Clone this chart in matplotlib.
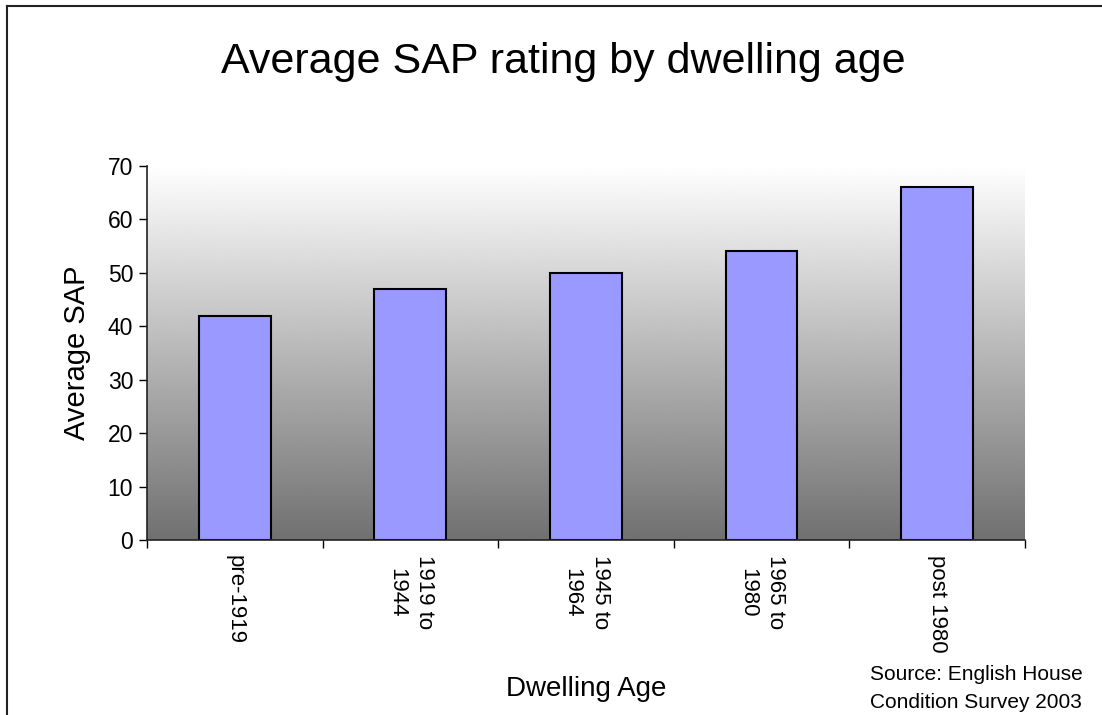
import matplotlib
matplotlib.use("Agg")
import matplotlib.pyplot as plt
from matplotlib.lines import Line2D
import numpy as np

# data
categories = ["pre-1919", "1919 to\n1944", "1945 to\n1964", "1965 to\n1980", "post 1980"]
sap = [42, 47, 50, 54, 66]

plt.rcParams['font.family'] = ['Liberation Sans', 'DejaVu Sans']

fig = plt.figure(figsize=(11.02, 7.15), dpi=100)
ax = fig.add_axes([0.1334, 0.2448, 0.7966, 0.5231])

# grey gradient in the plot area, white at the top
grad = np.linspace(1.0, 0.44, 256).reshape(-1, 1)
ax.imshow(grad, cmap='gray', vmin=0, vmax=1, aspect='auto',
          extent=(-0.5, len(categories) - 0.5, 0, 70), zorder=0)

x = np.arange(len(categories))
ax.bar(x, sap, width=0.41, color='#9999ff', edgecolor='black', linewidth=1.5, zorder=2)

ax.set_xlim(-0.5, len(categories) - 0.5)
ax.set_ylim(0, 70)
ax.set_yticks(range(0, 71, 10))
ax.tick_params(axis='y', labelsize=16.5, length=6, width=1, direction='out', pad=4)

# tick marks between categories, labels at centres
ax.set_xticks(np.arange(-0.5, len(categories), 1.0))
ax.set_xticklabels([])
ax.set_xticks(x, minor=True)
ax.set_xticklabels(categories, minor=True, rotation=270, fontsize=16,
                   va='top', ha='center', multialignment='center', linespacing=1.45)
ax.tick_params(axis='x', which='major', length=6, width=1)
ax.tick_params(axis='x', which='minor', length=0, pad=11)

for s in ['top', 'right']:
    ax.spines[s].set_visible(False)
for s in ['left', 'bottom']:
    ax.spines[s].set_color('#222222')
    ax.spines[s].set_linewidth(1.2)

fig.text(0.511, 0.913, "Average SAP rating by dwelling age", fontsize=31,
         ha='center', va='center')
ax.set_ylabel("Average SAP", fontsize=21, labelpad=12)
fig.text(0.532, 0.037, "Dwelling Age", fontsize=20, ha='center', va='center')
fig.text(0.886, 0.037, "Source: English House\nCondition Survey 2003", fontsize=15,
         ha='center', va='center', linespacing=1.55)

# figure border (left and top edges)
fig.add_artist(Line2D([0.0065, 0.0065], [0, 0.992], transform=fig.transFigure,
                      color='#222222', linewidth=1.5))
fig.add_artist(Line2D([0.0065, 1.0], [0.992, 0.992], transform=fig.transFigure,
                      color='#222222', linewidth=1.5))

fig.savefig("out.png", dpi=100)
